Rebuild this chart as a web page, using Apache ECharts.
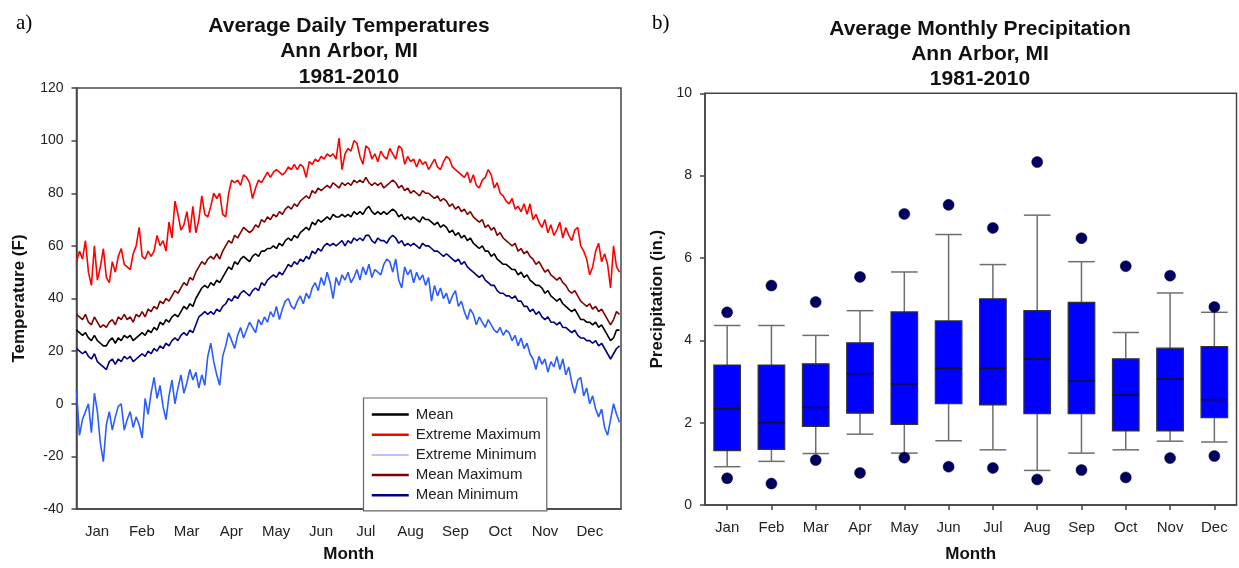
<!DOCTYPE html>
<html><head><meta charset="utf-8">
<script src="https://cdn.jsdelivr.net/npm/echarts@6/dist/echarts.min.js"></script>
<style>html,body{margin:0;padding:0;background:#fff}#c{width:1239px;height:568px}</style>
</head><body><div id="c"></div>
<script>
const monthLabels = ['Jan','Feb','Mar','Apr','May','Jun','Jul','Aug','Sep','Oct','Nov','Dec'];
const tempTicks = [-40,-20,0,20,40,60,80,100,120];
const precipTicks = [0,2,4,6,8,10];
const dayStep = 2; // values sampled every 2nd day of the year, starting Jan 1

const extremeMax = [
54,58,55,62,50,45,60,47,52,59,
48,46,54,50,56,59,53,52,51,57,
60,67,56,55,58,56,58,64,60,62,
58,69,63,77,72,66,68,73,65,75,
65,70,79,72,71,75,80,78,80,72,
71,80,85,84,85,83,87,86,84,78,
82,85,84,86,88,86,88,89,88,87,
88,90,89,91,89,91,90,86,92,91,
93,92,94,93,95,94,95,93,101,89,
95,97,96,100,99,94,91,98,97,93,
95,92,96,94,93,97,95,93,98,97,
91,94,92,93,90,93,91,92,89,91,
93,90,89,92,94,93,90,89,88,87,
86,88,84,87,83,82,85,86,89,87,
82,84,80,79,77,76,78,74,75,73,
76,72,76,70,72,69,67,70,65,68,
64,66,69,63,67,64,62,66,67,60,
58,55,49,52,58,61,54,57,53,44,
60,52,50];

const meanMax = [
34,33,32,34,31,30,33,31,29,30,
29,31,32,30,33,32,34,32,33,31,
34,33,35,33,36,35,37,36,39,38,
40,39,41,43,42,44,46,45,48,47,
50,52,54,53,55,56,55,57,55,58,
60,62,61,64,63,65,67,66,65,66,
68,67,70,69,71,70,72,71,73,72,
74,75,74,76,75,77,78,79,78,81,
80,82,81,82,83,82,84,83,82,84,
83,84,83,85,84,85,84,86,84,83,
84,83,84,82,83,84,85,84,82,83,
81,82,80,81,80,79,81,80,80,79,
78,79,77,78,77,75,76,74,75,73,
74,72,73,71,70,69,70,67,68,66,
67,64,65,63,62,61,60,61,58,59,
57,58,56,55,53,54,52,50,51,49,
48,47,48,46,45,43,42,43,41,39,
38,37,38,36,37,35,36,34,32,30,
32,35,34];

const meanTemp = [
28,27,26,27,25,24,26,24,23,22,
22,24,25,23,25,24,26,25,26,24,
25,26,27,26,28,27,29,28,31,30,
32,31,33,34,33,35,37,36,38,37,
40,42,44,45,44,46,45,47,46,48,
50,52,51,54,53,55,56,55,54,56,
57,56,58,58,59,59,60,59,61,60,
62,63,62,64,63,65,66,67,66,69,
68,70,69,70,71,70,72,71,71,72,
71,72,71,73,72,73,72,74,75,73,
72,73,72,73,72,73,74,73,71,72,
70,71,70,71,70,69,71,70,70,69,
68,69,67,68,67,65,66,64,65,63,
64,62,63,61,60,59,60,58,58,56,
57,55,54,53,53,52,51,51,49,50,
48,49,47,46,45,45,44,42,43,41,
40,39,40,38,37,36,35,36,34,32,
32,31,31,30,31,29,30,28,26,24,
25,28,28];

const meanMin = [
21,20,19,20,18,17,19,16,15,14,
13,16,17,15,17,16,18,17,18,16,
17,18,19,18,20,19,21,20,22,21,
23,22,24,25,24,26,27,26,28,27,
30,33,34,35,34,35,34,36,35,37,
38,40,39,41,40,42,43,42,41,43,
44,43,46,45,47,48,49,48,50,49,
51,53,52,54,53,55,54,56,55,58,
57,59,58,60,61,60,61,60,61,62,
60,62,61,63,62,63,62,64,64,62,
61,63,62,62,61,63,64,63,61,62,
60,61,60,61,60,59,61,60,60,59,
58,58,57,56,57,56,55,54,55,53,
54,52,51,50,49,48,49,47,46,45,
45,43,42,42,41,41,40,41,39,39,
37,37,35,36,34,35,33,32,33,31,
31,30,31,29,29,28,27,28,26,25,
25,24,24,23,24,22,23,21,19,17,
19,21,22];

const extremeMin = [
5,-12,-6,-3,0,-11,4,-3,-15,-22,
-8,-3,-10,-5,-1,0,-10,-6,-3,-9,
-5,-8,-13,2,-4,4,10,2,7,-1,
-6,3,9,0,6,11,4,8,13,9,
12,6,11,7,18,23,16,11,7,18,
22,27,24,21,26,29,25,28,31,29,
27,32,30,33,31,35,33,37,32,36,
39,40,37,36,39,41,38,42,40,44,
46,43,48,45,50,46,40,48,45,49,
47,50,46,48,51,47,52,49,53,48,
51,50,49,53,55,54,50,55,47,44,
52,49,51,46,50,47,49,45,48,39,
45,41,44,40,42,38,41,43,37,39,
35,32,36,34,30,33,31,29,32,30,
28,27,29,26,28,27,24,26,22,25,
21,23,19,17,13,18,15,17,12,16,
14,18,13,17,11,14,8,4,9,10,
3,6,0,3,-2,-5,-2,-9,-12,-6,
0,-4,-7];

// Monthly precipitation box plots (inches)
const whiskerLow  = [0.93,1.06,1.25,1.72,1.26,1.56,1.34,0.84,1.26,1.34,1.55,1.53];
const quartile1   = [1.32,1.35,1.91,2.23,1.96,2.46,2.43,2.22,2.22,1.80,1.80,2.12];
const medianP     = [2.34,2.00,2.37,3.19,2.94,3.32,3.32,3.55,3.01,2.67,3.06,2.56];
const quartile3   = [3.40,3.40,3.43,3.94,4.69,4.47,5.01,4.72,4.92,3.55,3.81,3.85];
const whiskerHigh = [4.36,4.36,4.12,4.72,5.66,6.57,5.84,7.04,5.91,4.19,5.15,4.68];
const outlierHigh = [4.68,5.33,4.93,5.54,7.07,7.29,6.73,8.33,6.48,5.80,5.57,4.81];
const outlierLow  = [0.65,0.52,1.09,0.78,1.15,0.93,0.90,0.62,0.85,0.67,1.14,1.19];

const FONT = "'Liberation Sans', Arial, sans-serif";
const AX = '#444';

function daily(arr){ return arr.map((v,i)=>[i*dayStep, v]); }

const boxData = monthLabels.map((m,i)=>[i, whiskerLow[i], quartile1[i], medianP[i], quartile3[i], whiskerHigh[i]]);
const outData = [];
monthLabels.forEach((m,i)=>{ outData.push([i, outlierHigh[i]]); outData.push([i, outlierLow[i]]); });

const chart = echarts.init(document.getElementById('c'), null, {renderer:'canvas'});

const lineSeries = (name, arr, color, width) => ({
  type:'line', name, data: daily(arr), xAxisIndex:0, yAxisIndex:0,
  symbol:'none', showSymbol:false, animation:false,
  lineStyle:{color, width}, itemStyle:{color}
});

const hiddenSym = {color:'rgba(0,0,0,0)', borderColor:'rgba(0,0,0,0)', borderWidth:0};

chart.setOption({
  animation:false,
  textStyle:{fontFamily:FONT},
  graphic:[
    {type:'text', x:16, y:13, style:{text:'a)', fontSize:21, fontFamily:"'Liberation Serif', serif", fill:'#000', align:'left', verticalAlign:'top'}},
    {type:'text', x:652, y:13, style:{text:'b)', fontSize:21, fontFamily:"'Liberation Serif', serif", fill:'#000', align:'left', verticalAlign:'top'}},
    {type:'text', x:349, y:13, style:{text:'Average Daily Temperatures\nAnn Arbor, MI\n1981-2010', fontSize:21, fontWeight:'bold', lineHeight:25.5, fontFamily:FONT, fill:'#111', align:'center', verticalAlign:'top'}},
    {type:'text', x:980, y:16.5, style:{text:'Average Monthly Precipitation\nAnn Arbor, MI\n1981-2010', fontSize:21, fontWeight:'bold', lineHeight:25, fontFamily:FONT, fill:'#111', align:'center', verticalAlign:'top'}}
  ],
  grid:[
    {left:76.5, top:88, width:544.5, height:426, show:true, borderColor:AX, borderWidth:1.5, backgroundColor:'transparent'},
    {left:74.6, top:88, width:537.6, height:426, show:false},
    {left:705, top:93.3, width:531.5, height:414.7, show:true, borderColor:AX, borderWidth:1.5, backgroundColor:'transparent'}
  ],
  xAxis:[
    {type:'value', gridIndex:0, min:0, max:365, axisLine:{show:true, onZero:false, lineStyle:{color:AX, width:1.5}}, axisTick:{show:false}, axisLabel:{show:false}, splitLine:{show:false},
     name:'Month', nameLocation:'middle', nameGap:37, nameTextStyle:{fontSize:17, fontWeight:'bold', color:'#111', fontFamily:FONT}},
    {type:'category', gridIndex:1, data:monthLabels, boundaryGap:true, axisLine:{show:false, onZero:false}, axisTick:{show:false}, splitLine:{show:false},
     axisLabel:{fontSize:15, margin:10, color:'#222', fontFamily:FONT, interval:0}},
    {type:'category', gridIndex:2, data:monthLabels, boundaryGap:true, axisLine:{show:true, onZero:false, lineStyle:{color:AX, width:1.5}},
     axisTick:{show:true, alignWithLabel:true, length:5, lineStyle:{color:AX, width:1.5}}, splitLine:{show:false},
     axisLabel:{fontSize:15, margin:15, color:'#222', fontFamily:FONT, interval:0},
     name:'Month', nameLocation:'middle', nameGap:41, nameTextStyle:{fontSize:17, fontWeight:'bold', color:'#111', fontFamily:FONT}}
  ],
  yAxis:[
    {type:'value', gridIndex:0, min:tempTicks[0], max:tempTicks[tempTicks.length-1], interval:20,
     axisLine:{show:true, onZero:false, lineStyle:{color:AX, width:1.5}}, axisTick:{show:true, length:5, lineStyle:{color:AX, width:1.5}},
     axisLabel:{fontSize:14, margin:13, color:'#222', fontFamily:FONT}, splitLine:{show:false},
     name:'Temperature (F)', nameLocation:'middle', nameGap:49, nameTextStyle:{fontSize:17, fontWeight:'bold', color:'#111', fontFamily:FONT}},
    {type:'value', gridIndex:1, min:0, max:1, show:false},
    {type:'value', gridIndex:2, min:precipTicks[0], max:precipTicks[precipTicks.length-1], interval:2,
     axisLine:{show:true, onZero:false, lineStyle:{color:AX, width:1.5}}, axisTick:{show:true, length:5, lineStyle:{color:AX, width:1.5}},
     axisLabel:{fontSize:14, margin:13, color:'#222', fontFamily:FONT}, splitLine:{show:false},
     name:'Precipitation (in.)', nameLocation:'middle', nameGap:39, nameTextStyle:{fontSize:17, fontWeight:'bold', color:'#111', fontFamily:FONT}}
  ],
  legend:{
    orient:'vertical', left:363.5, top:398, padding:[9,6,8,7], itemGap:5.2, itemWidth:37, itemHeight:14,
    borderColor:'#666', borderWidth:1.2, backgroundColor:'#fff',
    textStyle:{fontSize:15, color:'#222', fontFamily:FONT, padding:[0,0,0,2]},
    itemStyle:hiddenSym,
    data:[
      {name:'Mean', lineStyle:{width:2.5}, itemStyle:hiddenSym},
      {name:'Extreme Maximum', lineStyle:{width:2.5}, itemStyle:hiddenSym},
      {name:'Extreme Minimum', lineStyle:{width:1.5, color:'#a9aaff'}, itemStyle:hiddenSym},
      {name:'Mean Maximum', lineStyle:{width:2.5}, itemStyle:hiddenSym},
      {name:'Mean Minimum', lineStyle:{width:2.5}, itemStyle:hiddenSym}
    ]
  },
  series:[
    lineSeries('Extreme Maximum', extremeMax, '#ff0000', 1.6),
    lineSeries('Mean Maximum', meanMax, '#800000', 1.6),
    lineSeries('Mean', meanTemp, '#000000', 1.6),
    lineSeries('Mean Minimum', meanMin, '#000080', 1.6),
    lineSeries('Extreme Minimum', extremeMin, '#2b5cff', 1.6),
    {
      type:'custom', name:'box', xAxisIndex:2, yAxisIndex:2, data:boxData, encode:{x:0, y:[1,2,3,4,5]},
      renderItem:function(params, api){
        const i = api.value(0);
        const pLo = api.coord([i, api.value(1)]);
        const pQ1 = api.coord([i, api.value(2)]);
        const pMd = api.coord([i, api.value(3)]);
        const pQ3 = api.coord([i, api.value(4)]);
        const pHi = api.coord([i, api.value(5)]);
        const hw = api.size([1,0])[0]*0.3;
        const cx = pMd[0];
        const wStyle = {stroke:'#6e6e6e', lineWidth:1.5};
        return {type:'group', children:[
          {type:'line', shape:{x1:cx, y1:pQ3[1], x2:cx, y2:pHi[1]}, style:wStyle},
          {type:'line', shape:{x1:cx-hw, y1:pHi[1], x2:cx+hw, y2:pHi[1]}, style:wStyle},
          {type:'line', shape:{x1:cx, y1:pQ1[1], x2:cx, y2:pLo[1]}, style:wStyle},
          {type:'line', shape:{x1:cx-hw, y1:pLo[1], x2:cx+hw, y2:pLo[1]}, style:wStyle},
          {type:'rect', shape:{x:cx-hw, y:pQ3[1], width:2*hw, height:pQ1[1]-pQ3[1]}, style:{fill:'#0000ff', stroke:'#333', lineWidth:1.2}},
          {type:'line', shape:{x1:cx-hw, y1:pMd[1], x2:cx+hw, y2:pMd[1]}, style:{stroke:'#111133', lineWidth:1.6}}
        ]};
      }
    },
    {type:'scatter', name:'outliers', xAxisIndex:2, yAxisIndex:2, data:outData, symbol:'circle', symbolSize:11,
     itemStyle:{color:'#000060', opacity:1, borderColor:'#000030', borderWidth:0.5}}
  ]
});
</script>
</body></html>
